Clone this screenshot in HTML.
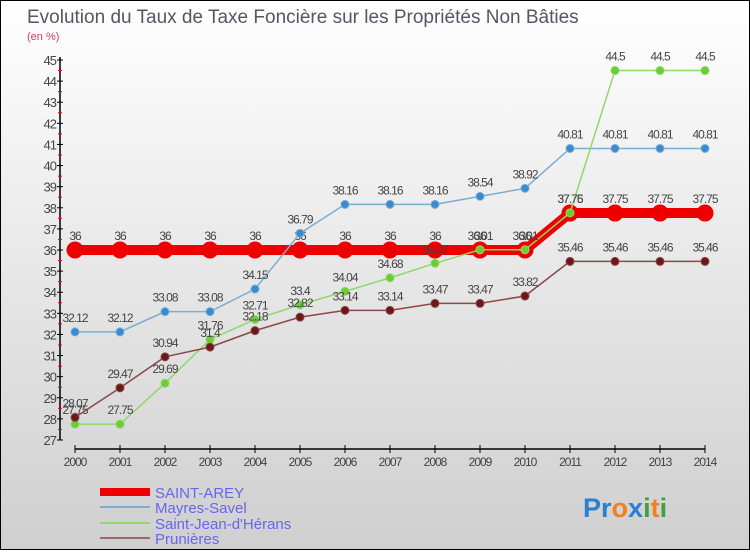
<!DOCTYPE html>
<html><head><meta charset="utf-8"><style>
body{margin:0}
svg text{font-family:"Liberation Sans",sans-serif}
</style></head><body>
<svg id="c" width="750" height="550" xmlns="http://www.w3.org/2000/svg">
<defs><linearGradient id="bg" x1="0" y1="0" x2="0" y2="1"><stop offset="0" stop-color="#ffffff"/><stop offset="1" stop-color="#cfcfcf"/></linearGradient></defs>
<rect x="0.5" y="0.5" width="749" height="549" fill="url(#bg)" stroke="#000"/>
<text x="27" y="23" font-size="19" fill="#555566">Evolution du Taux de Taxe Foncière sur les Propriétés Non Bâties</text>
<text x="27" y="40" font-size="11" fill="#d04060">(en %)</text>
<g id="axes"></g><g id="series"></g>
<g>
<line x1="100" y1="492" x2="150" y2="492" stroke="#e00" stroke-width="8"/>
<text x="155" y="498" font-size="15" fill="#6666ee">SAINT-AREY</text>
<line x1="100" y1="507" x2="150" y2="507" stroke="#7aaed0" stroke-width="2"/>
<text x="155" y="513" font-size="15" fill="#6666ee">Mayres-Savel</text>
<line x1="100" y1="523" x2="150" y2="523" stroke="#8fd86a" stroke-width="2"/>
<text x="155" y="529" font-size="15" fill="#6666ee">Saint-Jean-d'Hérans</text>
<line x1="100" y1="538" x2="150" y2="538" stroke="#a06868" stroke-width="2"/>
<text x="155" y="544" font-size="15" fill="#6666ee">Prunières</text>
</g>
<text x="583" y="517" font-size="27" font-weight="bold"><tspan fill="#2a7fd0">Pr</tspan><tspan fill="#f08020">o</tspan><tspan fill="#2a7fd0">x</tspan><tspan fill="#40a040">i</tspan><tspan fill="#f08020">t</tspan><tspan fill="#40a040">i</tspan></text>
</svg>
<script>
const years=[2000,2001,2002,2003,2004,2005,2006,2007,2008,2009,2010,2011,2012,2013,2014];
const yTicks=[27,28,29,30,31,32,33,34,35,36,37,38,39,40,41,42,43,44,45];
const saintArey=[36,36,36,36,36,36,36,36,36,36,36,37.75,37.75,37.75,37.75];
const mayres=[32.12,32.12,33.08,33.08,34.15,36.79,38.16,38.16,38.16,38.54,38.92,40.81,40.81,40.81,40.81];
const saintJean=[27.75,27.75,29.69,31.76,32.71,33.4,34.04,34.68,35.37,36.01,36.01,37.76,44.5,44.5,44.5];
const prunieres=[28.07,29.47,30.94,31.4,32.18,32.82,33.14,33.14,33.47,33.47,33.82,35.46,35.46,35.46,35.46];
const NS="http://www.w3.org/2000/svg";
const X=i=>75+i*(705-75)/(years.length-1);
const Y=v=>440-(v-27)*(380/18);
function mk(tag,attrs,parent){const e=document.createElementNS(NS,tag);for(const k in attrs)e.setAttribute(k,attrs[k]);parent.appendChild(e);return e;}
const ax=document.getElementById('axes');
const ya=mk('line',{x1:60,y1:Y(45)-3,x2:60,y2:440,stroke:'#000','stroke-width':1.5},ax);


yTicks.forEach(v=>{
 mk('line',{x1:57,y1:Y(v),x2:63,y2:Y(v),stroke:'#000'},ax);
 if(v<45)mk('line',{x1:58,y1:Y(v+0.5),x2:62,y2:Y(v+0.5),stroke:'#e00'},ax);
 const t=mk('text',{x:56,y:Y(v)+5,'font-size':13,'text-anchor':'end',fill:'#444','letter-spacing':'-1'},ax);
 t.textContent=v;
 
 
});
const xa=mk('line',{x1:75,y1:449,x2:705,y2:449,stroke:'#000','stroke-width':1.5},ax);


years.forEach((y,i)=>{
 mk('line',{x1:X(i),y1:445,x2:X(i),y2:453,stroke:'#000'},ax);
 const t=mk('text',{x:X(i),y:466,'font-size':12,'text-anchor':'middle',fill:'#444','letter-spacing':'-1'},ax);
 t.textContent=y;
 
 
});
const sg=document.getElementById('series');
function series(data,name,color,dot,w,r){
 const g=mk('g',{},sg);
 
 
 mk('polyline',{points:data.map((v,i)=>X(i)+','+Y(v)).join(' '),fill:'none',stroke:color,'stroke-width':w},g);
 data.forEach((v,i)=>{
  const c=mk('circle',{cx:X(i),cy:Y(v),r:r,fill:dot,stroke:color,'stroke-width':1},g);
  
  
  const t=mk('text',{x:X(i),y:Y(v)-10,'font-size':12,'text-anchor':'middle',fill:'#444','letter-spacing':'-1'},g);
  t.textContent=v;
  
  
 });
}
series(saintArey,'saint-arey','#ee0000','#ee0000',10,8);
series(mayres,'mayres-savel','#7aaed0','#3a8ad0',1.5,4);
series(saintJean,'saint-jean','#8fd86a','#6ccc30',1.5,4);
series(prunieres,'prunieres','#8a4848','#6a1818',1.5,4);
</script>
</body></html>
